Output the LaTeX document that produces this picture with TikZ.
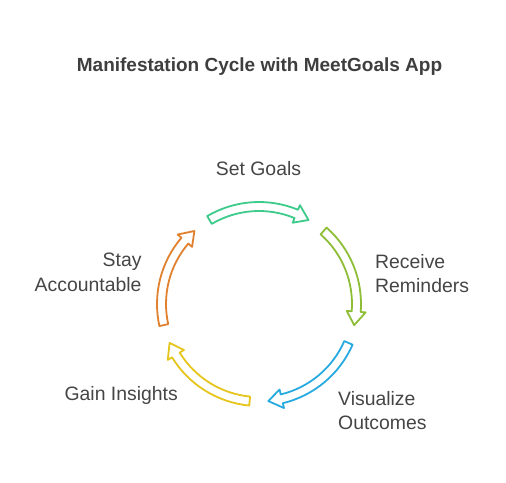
\documentclass[tikz,border=0pt]{standalone}
\usepackage{fontspec}
\setmainfont{Liberation Sans}
\definecolor{cGreen}{HTML}{3DCB8C}
\definecolor{cLime}{HTML}{8DBE36}
\definecolor{cBlue}{HTML}{27AADF}
\definecolor{cYellow}{HTML}{E6C51C}
\definecolor{cOrange}{HTML}{E0812F}
\definecolor{labelgray}{HTML}{454545}
\definecolor{titlegray}{HTML}{3E3E3E}
\newcommand\cyclearrow[2]{%
  \pgfmathsetmacro\caS{#1+30.5}%
  \pgfmathsetmacro\caB{#1-22.5}%
  \pgfmathsetmacro\caE{#1-30.5}%
  \draw[cyclearrowstyle, draw=#2]
    (\caS:102) arc[start angle=\caS, end angle=\caB, radius=102]
    -- (\caB:107) -- (\caE:97.5) -- (\caB:88) -- (\caB:93)
    arc[start angle=\caB, end angle=\caS, radius=93] -- cycle;}
\begin{document}
\begin{tikzpicture}[x=1pt,y=1pt,
  cyclearrowstyle/.style={line width=1.8pt, fill=white, line join=round},
  lbl/.style={inner sep=0pt, text=labelgray, font=\fontsize{19.4}{24.3}\selectfont},
  ttl/.style={inner sep=0pt, text=titlegray, font=\fontsize{19}{23}\selectfont\bfseries}]
\useasboundingbox (0,0) rectangle (506,-482);
\node[ttl, anchor=base] (title) at (259.5,-71) {Manifestation Cycle with MeetGoals App};
\begin{scope}[shift={(259,-304)}]
  \cyclearrow{90}{cGreen}
  \cyclearrow{18}{cLime}
  \cyclearrow{-54}{cBlue}
  \cyclearrow{-126}{cYellow}
  \cyclearrow{-198}{cOrange}
\end{scope}
\node[lbl, anchor=base] (setgoals) at (258.5,-175.7) {Set Goals};
\node[lbl, anchor=base west] (receive) at (375,-268) {\begin{tabular}[t]{@{}l@{}}Receive\\Reminders\end{tabular}};
\node[lbl, anchor=base west] (visualize) at (338,-405.5) {\begin{tabular}[t]{@{}l@{}}Visualize\\Outcomes\end{tabular}};
\node[lbl, anchor=base east] (gain) at (178,-400) {Gain Insights};
\node[lbl, anchor=base east] (stay) at (141.7,-266.7) {\begin{tabular}[t]{@{}r@{}}Stay\\Accountable\end{tabular}};
\end{tikzpicture}
\end{document}
